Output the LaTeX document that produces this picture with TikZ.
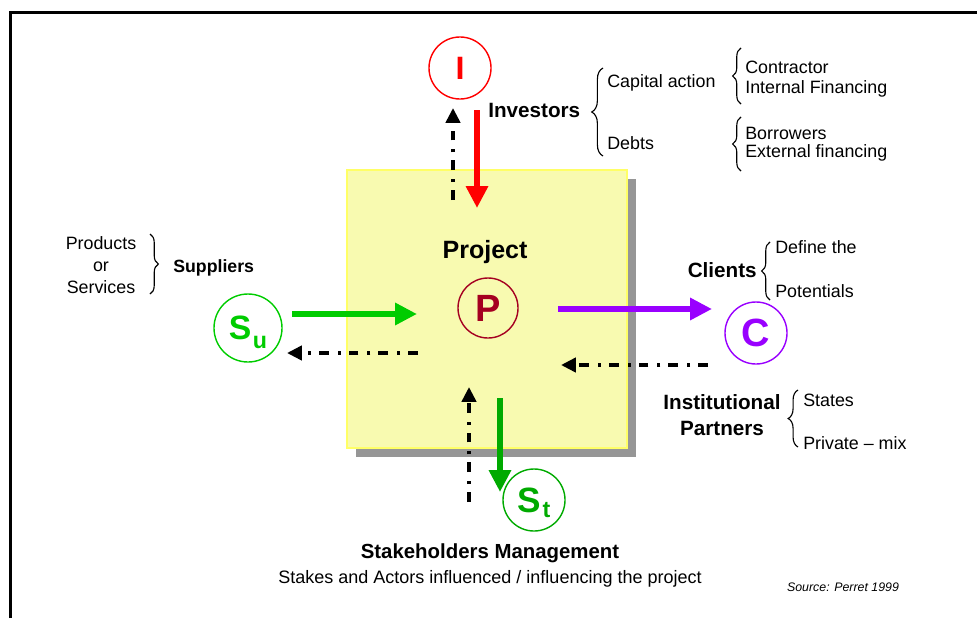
\documentclass[tikz,border=0pt]{standalone}
\usepackage{fontspec}
\setmainfont{Liberation Sans}
\usetikzlibrary{arrows.meta,decorations.pathreplacing,shadows}
\definecolor{invred}{RGB}{255,0,0}
\definecolor{supgreen}{RGB}{0,204,0}
\definecolor{stkgreen}{RGB}{0,170,0}
\definecolor{clipurple}{RGB}{153,0,255}
\definecolor{projred}{RGB}{165,0,33}
\definecolor{boxfill}{RGB}{248,250,176}
\definecolor{boxline}{RGB}{255,255,102}
\definecolor{boxshade}{RGB}{150,150,150}

\begin{document}
\begin{tikzpicture}[x=0.025cm,y=-0.025cm,
  txt/.style={font=\fontsize{12.7}{15.6}\selectfont,inner sep=0pt},
  lbl/.style={font=\bfseries\fontsize{14.7}{18.5}\selectfont,inner sep=0pt},
  actor/.style={circle,draw,line width=1pt,inner sep=0pt,font=\bfseries\fontsize{23}{23}\selectfont},
  flow/.style={line width=4.3pt,-{Triangle[length=15.5pt,width=15pt]}},
  back/.style={line width=2.6pt,dash pattern=on 7pt off 5.7pt on 2.1pt off 6.4pt,-{Triangle[length=10.5pt,width=10pt]}},
  brc/.style={decorate,decoration={brace,amplitude=#1},line width=0.8pt}]
  \useasboundingbox (0,0) rectangle (977,618);
  % frame
  \draw[line width=1.5pt] (10.5,618) -- (10.5,12.5) -- (977,12.5);
  % project box
  \node[draw=boxline,fill=boxfill,line width=0.8pt,minimum width=7cm,minimum height=6.95cm,inner sep=0pt,
        drop shadow={shadow xshift=6.4pt,shadow yshift=-6.4pt,fill=boxshade,opacity=1}] (box) at (487,309) {};
  \node[lbl,font=\bfseries\fontsize{17.8}{20}\selectfont] (projt) at (485,252) {Project};
  % actors
  \node[actor,draw=invred,text=invred,minimum size=1.55cm] (inv) at (460,68) {I};
  \node[actor,draw=projred,text=projred,minimum size=1.5cm,font=\bfseries\fontsize{27}{27}\selectfont] (prj) at (488,308) {P};
  \node[actor,draw=supgreen,text=supgreen,minimum size=1.7cm,font=\bfseries\fontsize{24}{24}\selectfont] (sup) at (248,328)
    {S\kern1pt\smash{\raisebox{-6.4pt}{\fontsize{16.5}{16.5}\selectfont u}}};
  \node[actor,draw=clipurple,text=clipurple,minimum size=1.55cm,font=\bfseries\fontsize{28}{28}\selectfont] (cli) at (756,333) {C};
  \node[actor,draw=stkgreen,text=stkgreen,minimum size=1.55cm,font=\bfseries\fontsize{25}{25}\selectfont] (stk) at (534,500)
    {S\kern1pt\smash{\raisebox{-3.6pt}{\fontsize{16.5}{16.5}\selectfont t}}};
  % arrow ends
  \coordinate (invA) at (477,110);
  \coordinate (invB) at (477,208);
  \coordinate (invC) at (453,200);
  \coordinate (invD) at (453,108);
  \coordinate (supA) at (292,314);
  \coordinate (supB) at (417,314);
  \coordinate (supC) at (418,353);
  \coordinate (supD) at (287,353);
  \coordinate (cliA) at (558,309);
  \coordinate (cliB) at (712,309);
  \coordinate (cliC) at (708,365);
  \coordinate (cliD) at (561,365);
  \coordinate (stkA) at (500,398);
  \coordinate (stkB) at (500,492);
  \coordinate (stkC) at (469,502);
  \coordinate (stkD) at (469,387);
  \draw[flow,invred] (invA) -- (invB);
  \draw[back] (invC) -- (invD);
  \draw[flow,supgreen] (supA) -- (supB);
  \draw[back] (supC) -- (supD);
  \draw[flow,clipurple] (cliA) -- (cliB);
  \draw[back] (cliC) -- (cliD);
  \draw[flow,stkgreen] (stkA) -- (stkB);
  \draw[back] (stkC) -- (stkD);
  % investors
  \node[lbl,anchor=west] (invt) at (488,110) {Investors};
  \draw[brc=8pt] (603,156) -- (603,68);
  \node[txt,anchor=west] (capt) at (607,83) {Capital action};
  \node[txt,anchor=west] (debt) at (607,143) {Debts};
  \draw[brc=6pt] (741,104) -- (741,48);
  \node[txt,anchor=west] (cont) at (745,67) {Contractor};
  \node[txt,anchor=west] (intf) at (745,89) {Internal Financing};
  \draw[brc=6pt] (741,171) -- (741,117);
  \node[txt,anchor=west] (borr) at (745,133) {Borrowers};
  \node[txt,anchor=west] (extf) at (745,153) {External financing};
  % suppliers
  \node[txt,align=center] (prod) at (101,265) {Products\\or\\Services};
  \draw[brc=6pt] (150,234) -- (150,294);
  \node[lbl,anchor=west,font=\bfseries\fontsize{12.6}{15}\selectfont] (supt) at (173,268) {Suppliers};
  % clients
  \node[lbl,anchor=east] (clit) at (757,270) {Clients};
  \draw[brc=6pt] (770,300) -- (770,242);
  \node[txt,anchor=west] (defn) at (775,247) {Define the};
  \node[txt,anchor=west] (potn) at (775,291) {Potentials};
  % institutional partners
  \node[lbl,align=center] (inst) at (722,415) {Institutional\\Partners};
  \draw[brc=7pt] (798,447) -- (798,390);
  \node[txt,anchor=west] (stat) at (803,400) {States};
  \node[txt,anchor=west] (priv) at (803,443) {Private -- mix};
  % caption
  \node[lbl,font=\bfseries\fontsize{14.5}{17}\selectfont] (title) at (490,553) {Stakeholders Management};
  \node[txt,font=\fontsize{12.8}{15}\selectfont] (subt) at (490,579) {Stakes and Actors influenced / influencing the project};
  \node[inner sep=0pt,font=\itshape\fontsize{8.8}{10}\selectfont] (src) at (843,587) {Source: Perret 1999};
\end{tikzpicture}
\end{document}
